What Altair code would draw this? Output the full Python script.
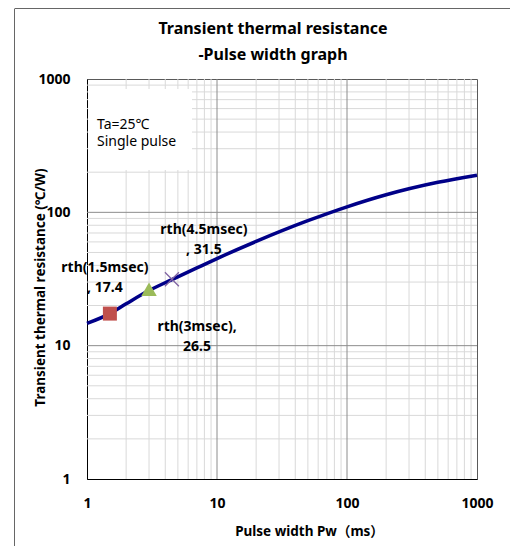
import altair as alt
import pandas as pd

FONT = "Noto Sans, Noto Sans CJK JP"

TITLE = "Transient thermal resistance\n-Pulse width graph"

# curve
pw = [1, 1.5, 2, 3, 4.5, 7, 10, 20, 50, 100, 200, 500, 1000]
rth = [14.7, 17.4, 20.6, 25.9, 31.3, 38.3, 45, 60.5, 86.5, 110, 135.5, 168, 190]

# highlighted points
pt_pw = [1.5, 3, 4.5]
pt_rth = [17.4, 26.5, 31.5]
pt_label = ["rth(1.5msec)\n, 17.4", "rth(3msec),\n26.5", "rth(4.5msec)\n, 31.5"]

ticks_major = [1, 10, 100, 1000]
grid_major = [10, 100]
grid_minor = [2, 3, 4, 5, 6, 7, 8, 9,
              20, 30, 40, 50, 60, 70, 80, 90,
              200, 300, 400, 500, 600, 700, 800, 900]

curve = pd.DataFrame({"pw": pw, "rth": rth})
pts = pd.DataFrame({"pw": pt_pw, "rth": pt_rth, "label": pt_label})

xscale = alt.Scale(type="log", domain=[1, 1000], nice=False)
yscale = alt.Scale(type="log", domain=[1, 1000], nice=False)

xaxis = alt.Axis(values=ticks_major, format="d", grid=False, ticks=False, tickSize=0,
                 labelFlush=False, labelFont=FONT, labelFontSize=14, labelFontWeight="bold",
                 labelColor="black", labelPadding=28, labelBaseline="alphabetic",
                 domainColor="black", domainWidth=1,
                 titleFont=FONT, titleFontSize=13.5, titleFontWeight="bold", titleColor="black",
                 titleX=222, titleY=56, titleBaseline="alphabetic", titleAlign="center")
yaxis = alt.Axis(values=ticks_major, format="d", grid=False, ticks=False, tickSize=0,
                 labelFont=FONT, labelFontSize=14, labelFontWeight="bold",
                 labelColor="black", labelPadding=17,
                 domainColor="black", domainWidth=1,
                 titleFont=FONT, titleFontSize=13.5, titleFontWeight="bold", titleColor="black",
                 titleX=-47, titleY=208, titleBaseline="middle", titleAlign="center",
                 titleAngle=-90)

X = alt.X("pw:Q", scale=xscale, axis=xaxis, title="Pulse width Pw（ms）")
Y = alt.Y("rth:Q", scale=yscale, axis=yaxis, title="Transient thermal resistance (℃/W)")

minor_v = alt.Chart(pd.DataFrame({"pw": grid_minor})).mark_rule(
    color="#d9d9d9", strokeWidth=1).encode(x=X)
minor_h = alt.Chart(pd.DataFrame({"rth": grid_minor})).mark_rule(
    color="#d9d9d9", strokeWidth=1).encode(y=Y)
major_v = alt.Chart(pd.DataFrame({"pw": grid_major})).mark_rule(
    color="#8c8c8c", strokeWidth=1).encode(x=X)
major_h = alt.Chart(pd.DataFrame({"rth": grid_major})).mark_rule(
    color="#8c8c8c", strokeWidth=1).encode(y=Y)

one = alt.Data(values=[{}])

box = alt.Chart(one).mark_rect(color="white").encode(
    x=alt.value(1), x2=alt.value(105), y=alt.value(10), y2=alt.value(91))
box_text = alt.Chart(one).mark_text(
    text="Ta=25℃\nSingle pulse", lineBreak="\n", lineHeight=17.5, align="left",
    baseline="alphabetic", font=FONT, fontSize=14, color="black").encode(
    x=alt.value(10), y=alt.value(49.5))

title = alt.Chart(one).mark_text(
    text=TITLE, lineBreak="\n", lineHeight=25.5, align="center",
    baseline="alphabetic", font=FONT, fontSize=16, fontWeight="bold", color="black").encode(
    x=alt.value(186), y=alt.value(-45))

line = alt.Chart(curve).mark_line(color="#000088", strokeWidth=3.5,
                                  interpolate="monotone").encode(x=X, y=Y)

square = alt.Chart(pts).transform_filter("datum.pw == 1.5").mark_point(
    shape="square", filled=True, size=196, opacity=1, color="#C0504D").encode(x=X, y=Y)
tri = alt.Chart(pts).transform_filter("datum.pw == 3").mark_point(
    shape="triangle-up", filled=True, size=240, opacity=1, color="#9BBB59").encode(x=X, y=Y)
cross = alt.Chart(pts).transform_filter("datum.pw == 4.5").mark_point(
    shape="M-1,-1L1,1M-1,1L1,-1", filled=False, size=196, strokeWidth=1.3,
    color="#8064A2", opacity=1).encode(x=X, y=Y)

def label(i, dx, dy):
    return alt.Chart(pts).transform_filter(f"datum.pw == {pt_pw[i]}").mark_text(
        lineBreak="\n", lineHeight=20, align="center", baseline="alphabetic",
        font=FONT, fontSize=14, fontWeight="bold", color="black", dx=dx, dy=dy).encode(
        x=X, y=Y, text="label:N")

lab1 = label(0, -5, -42)
lab2 = label(1, 48, 42)
lab3 = label(2, 32, -45)

frame_v = alt.Chart(one).mark_rule(color="#666666", strokeWidth=1).encode(
    x=alt.value(-72.5), y=alt.value(-70), y2=alt.value(470))
frame_h = alt.Chart(one).mark_rule(color="#666666", strokeWidth=1).encode(
    x=alt.value(-72.5), x2=alt.value(440), y=alt.value(-70.5))

chart = alt.layer(
    minor_v, minor_h, major_v, major_h, box, box_text, line, square, tri, cross,
    lab1, lab2, lab3, title, frame_v, frame_h
).properties(
    width=390, height=400,
    padding={"left": 79, "top": 71, "right": 33, "bottom": 67},
    autosize=alt.AutoSizeParams(type="none"),
).configure_view(stroke="#595959", strokeWidth=1)

chart.save("out.html", embed_options={"renderer": "svg", "actions": False})
